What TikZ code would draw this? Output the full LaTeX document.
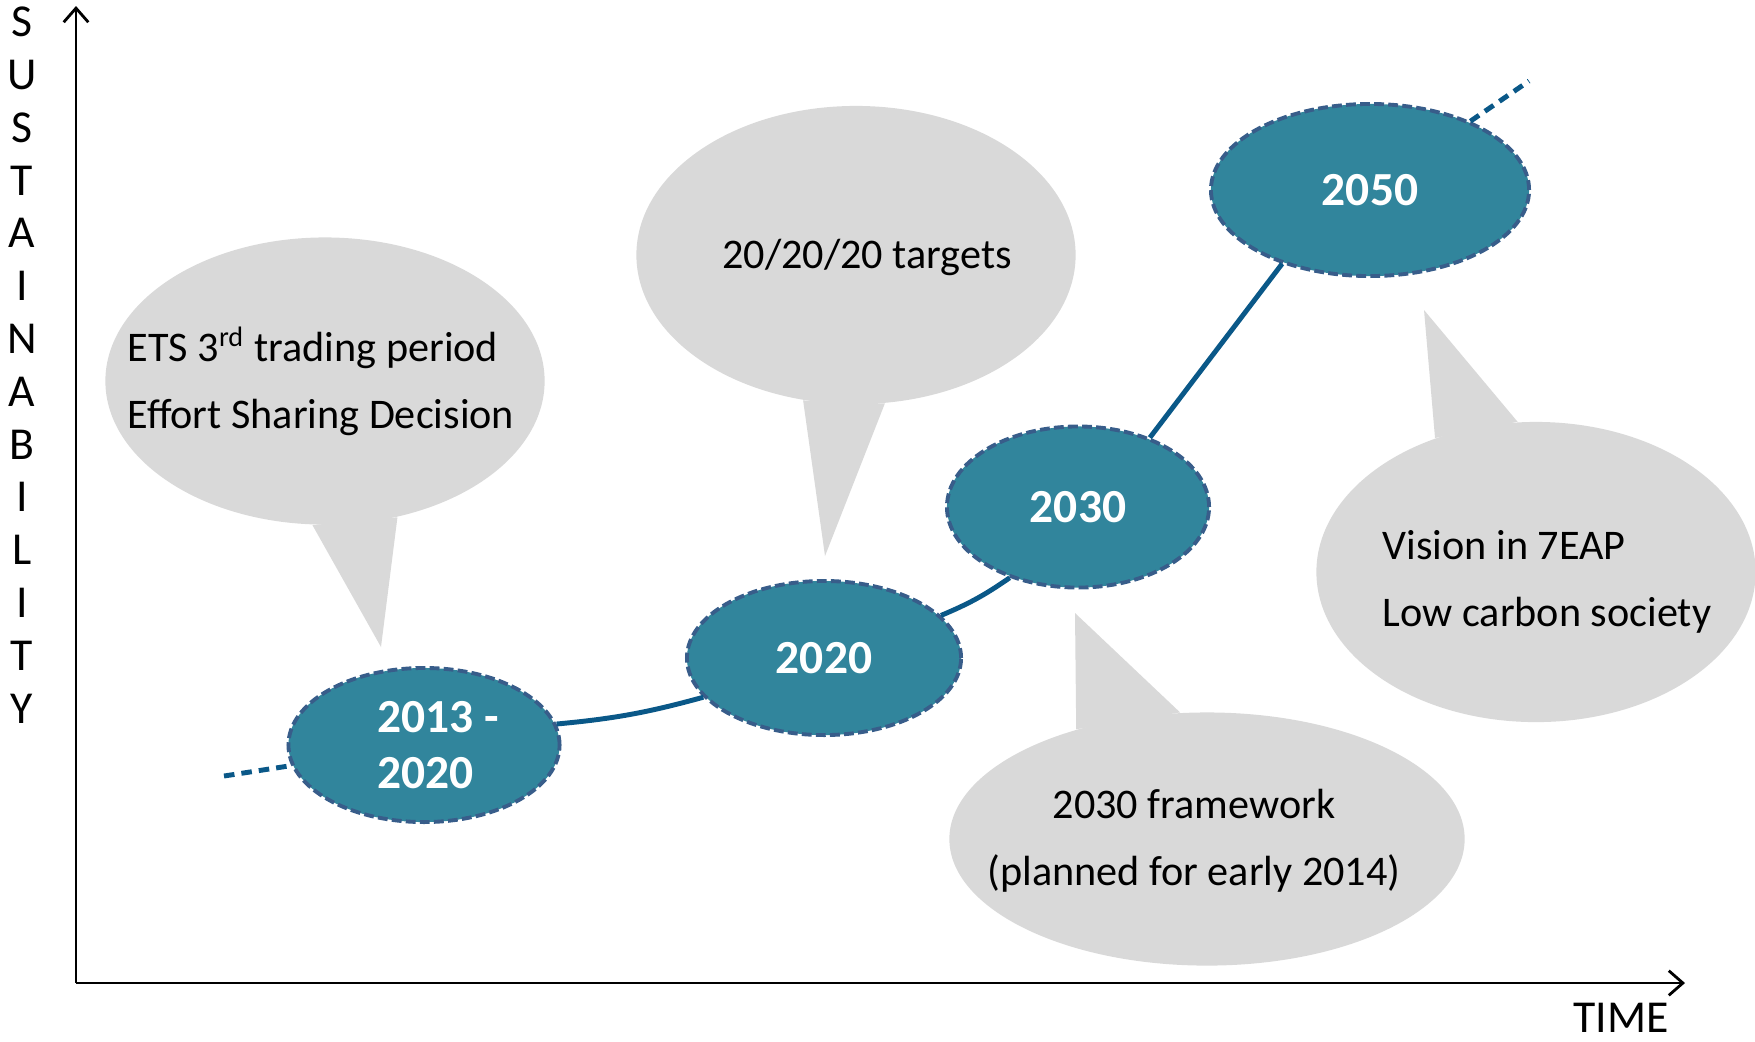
\documentclass[tikz,border=0pt]{standalone}
\usepackage{fontspec}
\setmainfont{Carlito}
\usetikzlibrary{shapes.geometric,arrows.meta}

\definecolor{yearfill}{HTML}{31859C}
\definecolor{yearline}{HTML}{385D8A}
\definecolor{pathblue}{HTML}{0A5888}
\definecolor{bubblegray}{HTML}{D9D9D9}

\tikzset{
  year/.style={ellipse, fill=yearfill, draw=yearline, line width=1.1pt,
    dash pattern=on 2.8pt off 1.2pt, inner sep=0pt, text=white,
    font=\fontsize{13.5}{16}\selectfont\bfseries, align=left},
  bubble/.style={ellipse, fill=bubblegray, inner sep=0pt},
  bubbletext/.style={font=\fontsize{12}{19}\selectfont, align=left},
  trend/.style={draw=pathblue, line width=1.4pt},
  axislabel/.style={font=\fontsize{13}{15}\selectfont, inner sep=0pt},
  axisline/.style={line width=0.8pt, -{Straight Barb[length=4pt,width=7pt]}},
}

\begin{document}
\begin{tikzpicture}[x=0.01cm,y=-0.01cm]
\useasboundingbox (0,0) rectangle (1755,1041);

% axes
\coordinate (o) at (76,983);
\coordinate (ytop) at (76,6);
\coordinate (xend) at (1685,983);
\draw[axisline] (o) -- (ytop);
\draw[axisline] (o) -- (xend);
\node[axislabel] (time) at (1621,1018) {TIME};
\foreach \l [count=\i] in {S,U,S,T,A,I,N,A,B,I,L,I,T,Y}
  \node[axislabel] (s\i) at (22,{22+(\i-1)*52.8}) {\l};

% speech bubbles
\node[bubble, minimum width=4.39cm, minimum height=2.87cm] (b1) at (325,381) {};
\node[bubble, minimum width=4.39cm, minimum height=2.98cm] (b2) at (856,255) {};
\node[bubble, minimum width=5.15cm, minimum height=2.53cm] (b3) at (1207,839) {};
\node[bubble, minimum width=4.39cm, minimum height=3.00cm] (b4) at (1536,572) {};
\coordinate (p1) at (381,647);
\coordinate (p2) at (825,556);
\coordinate (p3) at (1075,613);
\coordinate (p4) at (1424,310);
\fill[bubblegray] (b1.-95) -- (p1) -- (b1.-62) -- cycle;
\fill[bubblegray] (b2.-110) -- (p2) -- (b2.-79) -- cycle;
\fill[bubblegray] (b3.140) -- (p3) -- (b3.102) -- cycle;
\fill[bubblegray] (b4.127) -- (p4) -- (b4.97) -- cycle;
\node[bubbletext] (t1) at (321,381) {ETS 3\textsuperscript{rd} trading period\\Effort Sharing Decision};
\node[bubbletext] (t2) at (867,257) {20/20/20 targets};
\node[bubbletext, align=center] (t3) at (1194,841) {2030 framework\\(planned for early 2014)};
\node[bubbletext] (t4) at (1547,582) {Vision in 7EAP\\Low carbon society};

% milestones
\node[year, minimum width=2.71cm, minimum height=1.54cm] (e1) at (424,745) {\hspace*{8pt}2013 -\\\hspace*{8pt}2020};
\node[year, minimum width=2.74cm, minimum height=1.54cm] (e2) at (824,658) {2020};
\node[year, minimum width=2.62cm, minimum height=1.61cm] (e3) at (1078,507) {2030};
\node[year, minimum width=3.18cm, minimum height=1.72cm] (e4) at (1370,190) {2050};

% trend line
\coordinate (tstart) at (224,776);
\coordinate (tend) at (1529,81);
\draw[trend, dash pattern=on 3pt off 2pt] (tstart) -- (e1);
\draw[trend] (e1.9) to[bend right=5] (e2.-162);
\draw[trend] (e2.20) to[bend right=6] (e3.-134);
\draw[trend] (e3.44) -- (e4.-140);
\draw[trend, dash pattern=on 3pt off 2pt] (e4) -- (tend);
\end{tikzpicture}
\end{document}
